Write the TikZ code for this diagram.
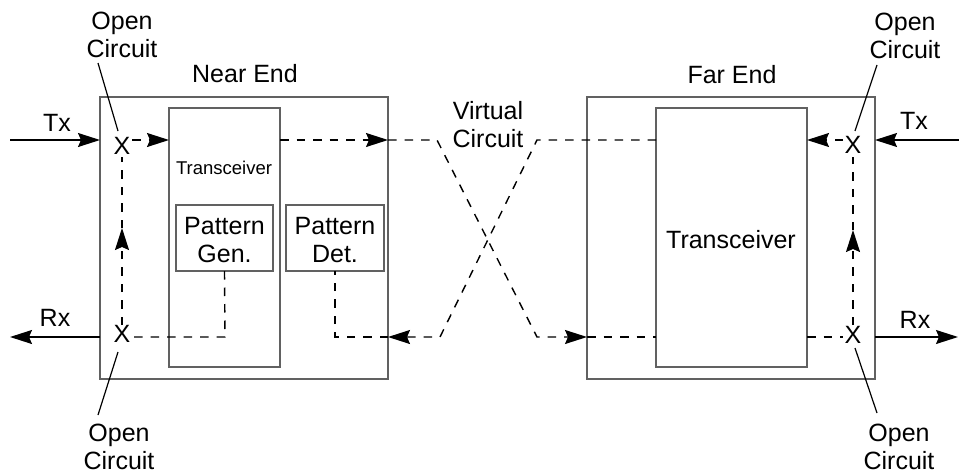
\documentclass[tikz,border=0pt]{standalone}
\usepackage{fontspec}
\setmainfont{Liberation Sans}
\usetikzlibrary{arrows.meta}
\begin{document}
\begin{tikzpicture}[x=1pt,y=-1pt,
  box/.style={draw=black!62,line width=1.6pt,inner sep=0pt,outer sep=0pt,rectangle},
  lbl/.style={inner sep=0pt,outer sep=0pt,font=\fontsize{25}{28}\selectfont,align=center},
  small/.style={inner sep=0pt,outer sep=0pt,font=\fontsize{18.5}{21}\selectfont},
  sig/.style={line width=1.4pt,black},
  dsh/.style={line width=1.4pt,black,dash pattern=on 8.5pt off 8pt},
  arr/.style={-{Stealth[length=22pt,width=14pt,inset=3pt]}},
  lead/.style={line width=1.2pt,black}]
\useasboundingbox (0,0) rectangle (959,474);

% boxes
\node[box,minimum width=288,minimum height=282] (near) at (244,238) {};
\node[box,minimum width=111,minimum height=259] (ntr) at (224.5,237.5) {};
\node[box,minimum width=97,minimum height=66] (pgen) at (224.5,238) {};
\node[box,minimum width=98,minimum height=66] (pdet) at (335,238) {};
\node[box,minimum width=288,minimum height=282] (far) at (731,238) {};
\node[box,minimum width=151,minimum height=259] (ftr) at (731.5,237.5) {};

% texts
\node[lbl] (pgt) at (224.5,240) {\fontsize{25}{32}\selectfont Pattern\\Gen.};
\node[lbl] (pdt) at (335,240) {\fontsize{25}{32}\selectfont Pattern\\Det.};
\node[small] (ntrt) at (224,168) {Transceiver};
\node[lbl] (ftrt) at (731,239.5) {Transceiver};
\node[lbl] (nend) at (245,74) {Near End};
\node[lbl] (fend) at (732,74.5) {Far End};
\node[lbl] (vc) at (488,125) {Virtual\\Circuit};
\node[lbl] (ntxl) at (57,122.5) {Tx};
\node[lbl] (nrxl) at (55,318) {Rx};
\node[lbl] (ftxl) at (914,121) {Tx};
\node[lbl] (frxl) at (915,320) {Rx};
\node[lbl] (oc1) at (122,35) {Open\\Circuit};
\node[lbl] (oc2) at (119,446.5) {Open\\Circuit};
\node[lbl] (oc3) at (905,36) {Open\\Circuit};
\node[lbl] (oc4) at (899,446.5) {Open\\Circuit};

% X marks
\node[lbl] (nx1) at (122,146) {X};
\node[lbl] (nx2) at (122,334) {X};
\node[lbl] (fx1) at (853,145) {X};
\node[lbl] (fx2) at (853,335) {X};

% coordinates
\coordinate (ntxs) at (10,140);
\coordinate (ntxe) at (100,140);
\coordinate (nrxs) at (100,337);
\coordinate (nrxe) at (10,337);
\coordinate (n1a) at (132,140);
\coordinate (n1b) at (169,140);
\coordinate (n1c) at (280,140);
\coordinate (n1d) at (388,140);
\coordinate (c1) at (437,140);
\coordinate (c2) at (537,337);
\coordinate (f2a) at (587,337);
\coordinate (f1a) at (656,140);
\coordinate (c3) at (537,140);
\coordinate (c4) at (440,337);
\coordinate (n2d) at (388,337);
\coordinate (n2e) at (335,337);
\coordinate (n2g) at (225,337);
\coordinate (n2a) at (132,337);
\coordinate (nv1) at (122,325);
\coordinate (nv2) at (122,228);
\coordinate (nv3) at (122,157);
\coordinate (ftxs) at (959,140);
\coordinate (ftxe) at (875,140);
\coordinate (f1x) at (843,140);
\coordinate (f1t) at (807,140);
\coordinate (f2t) at (656,337);
\coordinate (f2r) at (807,337);
\coordinate (f2x) at (843,337);
\coordinate (fv1) at (853,325);
\coordinate (fv2) at (853,230);
\coordinate (fv3) at (853,157);
\coordinate (frxs) at (875,337);
\coordinate (frxe) at (958,337);
% leaders
\coordinate (l1a) at (98,63);   \coordinate (l1b) at (118,131);
\coordinate (l2a) at (118,352); \coordinate (l2b) at (98,415);
\coordinate (l3a) at (877,65);  \coordinate (l3b) at (855,131);
\coordinate (l4a) at (855,348); \coordinate (l4b) at (877,413);

% solid signals
\draw[sig,arr] (ntxs) -- (ntxe);
\draw[sig,arr] (nrxs) -- (nrxe);
\draw[sig,arr] (ftxs) -- (ftxe);
\draw[sig,arr] (frxs) -- (frxe);

% dashed paths near end
\draw[dsh,arr] (n1a) -- (n1b);
\draw[dsh,arr] (n1c) -- (n1d);
\draw[dsh,arr] (n1d) -- (c1) -- (c2) -- (f2a);
\draw[dsh,arr] (f1a) -- (c3) -- (c4) -- (n2d);
\draw[dsh] (n2d) -- (n2e) -- (pdet.south);
\draw[dsh] (pgen.south) -- (n2g) -- (n2a);
\draw[dsh,arr] (nv1) -- (nv2);
\draw[dsh] (nv2) -- (nv3);

% dashed far end
\draw[dsh,arr] (f1x) -- (f1t);
\draw[dsh] (f2a) -- (f2t);
\draw[dsh] (f2r) -- (f2x);
\draw[dsh,arr] (fv1) -- (fv2);
\draw[dsh] (fv2) -- (fv3);

% leader lines
\draw[lead] (l1a) -- (l1b);
\draw[lead] (l2a) -- (l2b);
\draw[lead] (l3a) -- (l3b);
\draw[lead] (l4a) -- (l4b);
\end{tikzpicture}
\end{document}
